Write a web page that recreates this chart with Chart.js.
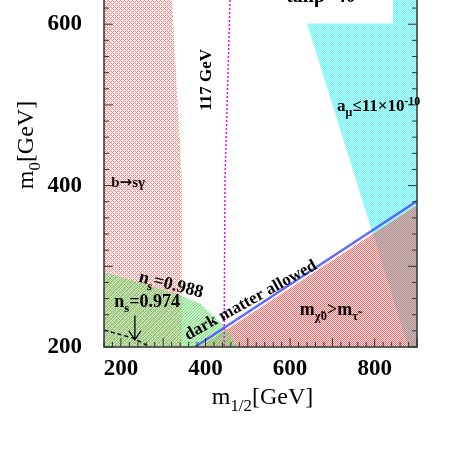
<!DOCTYPE html>
<html>
<head>
<meta charset="utf-8">
<script src="https://cdn.jsdelivr.net/npm/chart.js@4.4.1/dist/chart.umd.min.js"></script>
<style>
  html, body { margin: 0; padding: 0; background: #fff; }
  #wrap { position: relative; width: 463px; height: 463px; }
</style>
</head>
<body>
<div id="wrap"><canvas id="c" width="463" height="463"></canvas></div>
<script>
// --- Data (m1/2, m0 in GeV) ---
const xTicks = [200, 400, 600, 800];
const yTicks = [200, 400, 600];

// b -> s gamma excluded region
const bsgX = [160, 160, 321, 344, 344];
const bsgY = [200, 630, 630, 407, 200];

// n_s region (green)
const nsX = [160, 160, 252, 340, 387, 411, 446, 477];
const nsY = [200, 293, 279, 264, 254, 242, 225, 200];

// a_mu bound (cyan)
const amuX = [640, 843, 843, 900, 900, 879];
const amuY = [601, 601, 630, 630, 200, 200];

// stau LSP region (red)
const stauX = [387, 900, 900];
const stauY = [200, 376, 200];

// dark matter allowed band (blue)
const dmX = [375, 900];
const dmY = [200, 381];

// Higgs mass 117 GeV contour
const higgsX = [458, 446, 444];
const higgsY = [630, 407, 200];

// n_s = 0.974 contour
const ns974X = [160, 229, 269];
const ns974Y = [221, 211, 200];

const toPts = (xs, ys) => xs.map((x, i) => ({ x: x, y: ys[i] }));

// --- hatch patterns ---
function makePattern(size, fn) {
    const c = document.createElement('canvas');
    c.width = size; c.height = size;
    const g = c.getContext('2d');
    for (let y = 0; y < size; y++) {
        for (let x = 0; x < size; x++) {
            const col = fn(x, y);
            if (col) { g.fillStyle = col; g.fillRect(x, y, 1, 1); }
        }
    }
    return g.createPattern(c, 'repeat');
}

const bsgPat = makePattern(4, (x, y) =>
    ((x + y) % 4 === 0 || (x - y + 4) % 4 === 0) ? 'rgba(255,110,110,0.8)' : 'rgba(255,210,210,0.35)');
const nsPat = makePattern(3, (x, y) =>
    ((x + y) % 3 === 0) ? 'rgba(80,210,80,0.75)' : 'rgba(140,228,140,0.45)');
const amuPat = makePattern(2, (x, y) =>
    ((x + y) % 2 === 1) ? 'rgb(125,245,245)' : 'rgb(180,250,250)');
// red on the even pixels only, so where it covers the cyan the mix turns greyish
const stauPat = makePattern(2, (x, y) =>
    ((x + y) % 2 === 0) ? 'rgba(242,105,105,0.92)' : 'rgba(200,140,140,0.3)');

// --- text annotations ---
function drawRich(ctx, parts, x, y, size, angle, align) {
    ctx.save();
    ctx.translate(x, y);
    ctx.rotate(angle * Math.PI / 180);
    ctx.fillStyle = '#000';
    ctx.textBaseline = 'alphabetic';
    ctx.textAlign = 'left';
    const fontFor = p => {
        const s = p[1] ? size * 0.7 : size;
        if (p[2] === 'a') return 'bold ' + s + 'px "DejaVu Sans", sans-serif';
        return (p[2] === 'n' ? '' : 'bold ') + s + 'px "Liberation Serif", "Times New Roman", serif';
    };
    let w = 0;
    parts.forEach(p => { ctx.font = fontFor(p); w += ctx.measureText(p[0]).width; });
    let cx = align === 'center' ? -w / 2 : 0;
    parts.forEach(p => {
        ctx.font = fontFor(p);
        const dy = p[1] === 'sub' ? size * 0.3 : p[1] === 'sup' ? -size * 0.4 : 0;
        ctx.fillText(p[0], cx, dy);
        cx += ctx.measureText(p[0]).width;
    });
    ctx.restore();
}

const overlay = {
    id: 'overlay',
    afterDatasetsDraw(chart) {
        const ctx = chart.ctx;
        const xs = chart.scales.x, ys = chart.scales.y;
        const a = chart.chartArea;
        const px = v => xs.getPixelForValue(v), py = v => ys.getPixelForValue(v);

        // frame
        ctx.save();
        ctx.strokeStyle = '#333';
        ctx.lineWidth = 1.5;
        ctx.beginPath();
        ctx.moveTo(a.left, a.top); ctx.lineTo(a.left, a.bottom);
        ctx.lineTo(a.right, a.bottom); ctx.lineTo(a.right, a.top);
        ctx.stroke();

        // inward ticks
        ctx.lineWidth = 1;
        for (let v = 160; v <= 900; v += 20) {
            const L = v % 100 === 0 ? 9 : 5;
            ctx.beginPath();
            ctx.moveTo(px(v), a.bottom); ctx.lineTo(px(v), a.bottom - L);
            ctx.stroke();
        }
        for (let v = 200; v <= 630; v += 20) {
            const L = v % 100 === 0 ? 9 : 5;
            ctx.beginPath();
            ctx.moveTo(a.left, py(v)); ctx.lineTo(a.left + L, py(v));
            ctx.moveTo(a.right, py(v)); ctx.lineTo(a.right - L, py(v));
            ctx.stroke();
        }

        // arrow for n_s = 0.974
        ctx.strokeStyle = '#000';
        ctx.lineWidth = 1.3;
        const ax = px(233), ay0 = py(239), ay1 = py(209);
        ctx.beginPath();
        ctx.moveTo(ax, ay0); ctx.lineTo(ax, ay1);
        ctx.moveTo(ax - 6, ay1 - 9); ctx.lineTo(ax, ay1); ctx.lineTo(ax + 6, ay1 - 9);
        ctx.stroke();
        ctx.restore();

        drawRich(ctx, [['117 GeV']], px(399) + 6, py(531), 17, -90, 'center');
        drawRich(ctx, [['b'], ['\u2192', '', 'a'], ['s\u03B3']], px(217), py(398), 15, 0, 'center');
        drawRich(ctx, [['n'], ['s', 'sub'], ['=0.988']], px(316), py(271), 18, 14, 'center');
        drawRich(ctx, [['n'], ['s', 'sub'], ['=0.974']], px(262), py(250), 18, 0, 'center');
        drawRich(ctx, [['dark matter allowed']], px(512), py(253), 17, -29, 'center');
        drawRich(ctx, [['m'], ['\u03C7\u03030', 'sub'], ['>m'], ['\u03C4\u0303', 'sub']], px(623), py(240), 18, 0, 'left');
        drawRich(ctx, [['a'], ['\u03BC', 'sub'], ['\u226411\u00D710'], ['-10', 'sup']], px(711), py(492), 17, 0, 'left');
        drawRich(ctx, [['tan\u03B2=40']], px(673), 2, 20, 0, 'center');

        // axis titles
        drawRich(ctx, [['m', '', 'n'], ['1/2', 'sub', 'n'], ['[GeV]', '', 'n']], (a.left + a.right) / 2 + 2, 404, 24, 0, 'center');
        drawRich(ctx, [['m', '', 'n'], ['0', 'sub', 'n'], ['[GeV]', '', 'n']], 33, 145, 24, -90, 'center');
    }
};

const region = (pts, pat, order) => ({
    data: pts, showLine: true, fill: 'shape', backgroundColor: pat,
    borderWidth: 0, borderColor: 'rgba(0,0,0,0)', pointRadius: 0, tension: 0, order: order
});

new Chart(document.getElementById('c'), {
    type: 'scatter',
    data: {
        datasets: [
            region(toPts(bsgX, bsgY), bsgPat, 10),
            region(toPts(amuX, amuY), amuPat, 9),
            region(toPts(stauX, stauY), stauPat, 8),
            region(toPts(nsX, nsY), nsPat, 7),
            {
                data: toPts(dmX, dmY), showLine: true, borderColor: 'rgba(70,80,255,0.85)',
                borderWidth: 2.5, pointRadius: 0, fill: false, order: 3
            },
            {
                data: toPts(higgsX, higgsY), showLine: true, borderColor: '#ff00ff',
                borderWidth: 1.5, borderDash: [2, 2], pointRadius: 0, fill: false, order: 2
            },
            {
                data: toPts(ns974X, ns974Y), showLine: true, borderColor: '#000',
                borderWidth: 1.5, borderDash: [4, 3], pointRadius: 0, fill: false, order: 1
            }
        ]
    },
    options: {
        responsive: false,
        animation: false,
        events: [],
        layout: { padding: { left: 0, right: 46, top: 0, bottom: 0 } },
        plugins: { legend: { display: false }, tooltip: { enabled: false } },
        scales: {
            x: {
                type: 'linear', min: 160, max: 900,
                grid: { display: false },
                border: { display: false },
                afterBuildTicks: s => { s.ticks = xTicks.map(v => ({ value: v })); },
                afterFit: s => { s.height = 116; s.paddingLeft = 0; s.paddingRight = 0; },
                ticks: {
                    padding: 0, color: '#000',
                    font: { family: '"Liberation Serif", serif', size: 23, weight: 'bold' }
                }
            },
            y: {
                type: 'linear', min: 200, max: 630,
                grid: { display: false },
                border: { display: false },
                afterBuildTicks: s => { s.ticks = yTicks.map(v => ({ value: v })); },
                afterFit: s => { s.width = 104; s.paddingTop = 0; s.paddingBottom = 0; },
                ticks: {
                    padding: 14, color: '#000',
                    font: { family: '"Liberation Serif", serif', size: 23, weight: 'bold' }
                }
            }
        }
    },
    plugins: [overlay]
});
</script>
</body>
</html>
